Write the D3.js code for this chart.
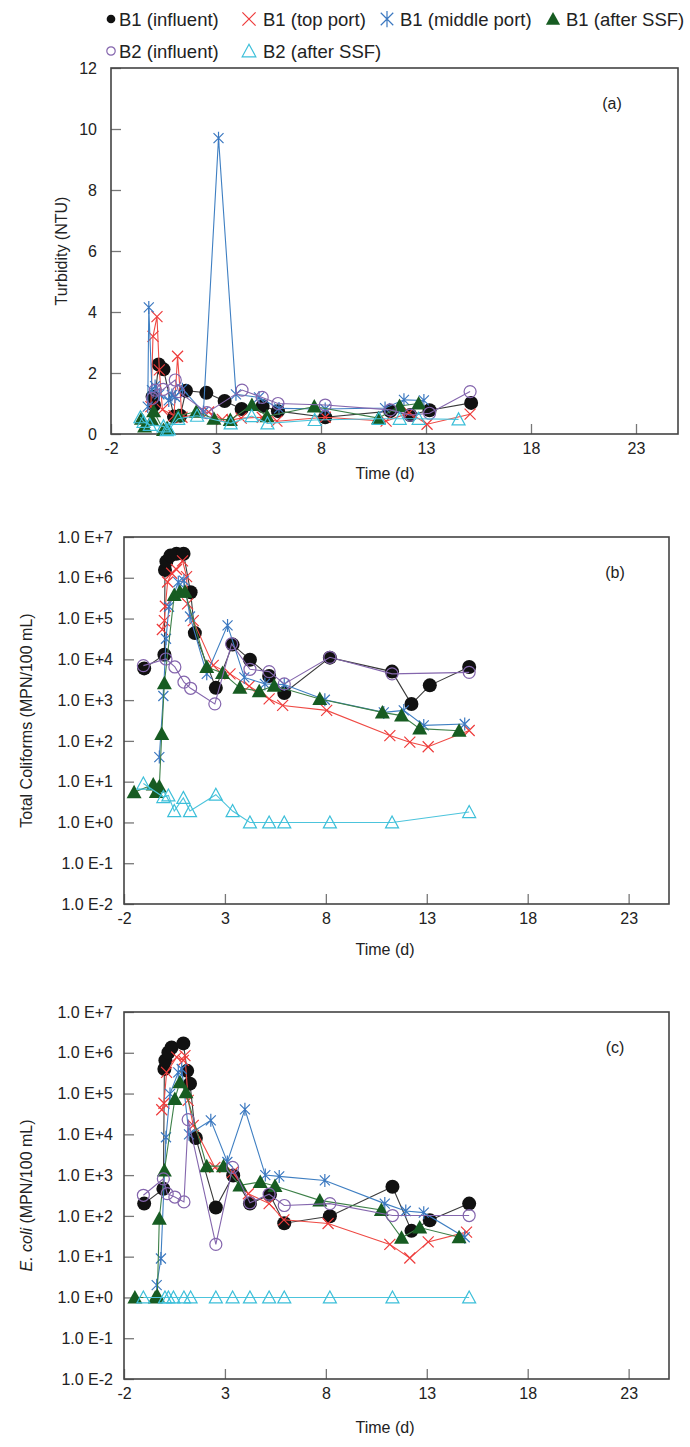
<!DOCTYPE html>
<html>
<head>
<meta charset="utf-8">
<script src="https://cdn.jsdelivr.net/npm/d3@7"></script>
<style>
  body { margin: 0; background: #fff; }
  svg { display: block; font-family: "Liberation Sans", Arial, sans-serif; }
</style>
</head>
<body>
<div id="chart"></div>
<script>
// ---- data (time in days) ----
const xTicks = [-2, 3, 8, 13, 18, 23];
const turbTicks = [0, 2, 4, 6, 8, 10, 12];
const logTicks = [1e-2, 1e-1, 1e0, 1e1, 1e2, 1e3, 1e4, 1e5, 1e6, 1e7];

// (a) turbidity, NTU
const turbB1InfT = [-0.02, 0.05, 0.27, 0.5, 1.0, 1.3, 1.57, 2.54, 3.41, 4.22, 5.22, 5.95, 8.2, 11.3, 12.25, 13.17, 15.15];
const turbB1InfV = [1.22, 0.95, 2.28, 2.12, 0.57, 0.6, 1.42, 1.35, 1.08, 0.82, 0.92, 0.75, 0.55, 0.75, 0.62, 0.78, 1.02];
const turbB1TopT = [-0.1, 0.0, 0.19, 0.3, 0.45, 1.0, 1.17, 1.38, 2.65, 3.3, 3.75, 4.2, 5.2, 5.9, 8.2, 11.1, 12.2, 13.05, 15.1];
const turbB1TopV = [0.9, 3.2, 3.85, 2.1, 0.8, 0.6, 2.55, 0.55, 0.72, 0.48, 0.46, 0.52, 0.55, 0.42, 0.55, 0.42, 0.7, 0.32, 0.65];
const turbB1MidT = [-0.25, -0.2, -0.05, 0.1, 0.3, 0.75, 0.9, 1.05, 1.4, 2.4, 3.12, 3.95, 5.05, 6.0, 8.2, 11.05, 11.95, 12.9];
const turbB1MidV = [0.9, 4.15, 1.44, 1.57, 1.3, 1.1, 1.28, 1.22, 1.47, 0.72, 9.7, 1.3, 1.2, 0.84, 0.82, 0.85, 1.12, 1.1];
const turbB1SsfT = [-0.55, -0.4, -0.05, 0.03, 0.5, 0.67, 1.2, 2.06, 2.9, 3.68, 4.71, 5.43, 7.68, 10.74, 11.74, 12.65];
const turbB1SsfV = [0.5, 0.25, 0.46, 0.75, 0.13, 0.2, 0.6, 0.73, 0.5, 0.46, 0.95, 0.58, 0.9, 0.52, 0.92, 1.0];
const turbB2InfT = [-0.02, 0.11, 0.48, 1.06, 1.22, 2.57, 4.24, 5.2, 5.95, 8.2, 11.3, 12.25, 13.17, 15.1];
const turbB2InfV = [1.17, 1.44, 1.46, 1.77, 1.39, 0.7, 1.44, 1.2, 1.0, 0.95, 0.79, 0.62, 0.68, 1.39];
const turbB2SsfT = [-0.6, -0.45, -0.15, 0.5, 0.65, 0.75, 1.2, 2.1, 3.7, 4.7, 5.45, 7.7, 10.75, 11.75, 12.65, 14.55];
const turbB2SsfV = [0.55, 0.4, 0.3, 0.25, 0.13, 0.15, 0.5, 0.6, 0.35, 0.59, 0.35, 0.46, 0.5, 0.5, 0.5, 0.48];

// (b) total coliforms, MPN/100 mL
const tcB1InfT = [-1.0, 0.0, 0.03, 0.1, 0.3, 0.6, 0.95, 1.3, 1.51, 2.55, 3.38, 4.24, 5.19, 5.94, 8.2, 11.28, 12.24, 13.15, 15.1];
const tcB1InfV = [6000, 13000, 1550000, 2500000, 3500000, 3900000, 3900000, 440000, 44000, 2000, 23000, 9800, 3900, 1500, 11000, 5000, 800, 2300, 6500];
const tcB1TopT = [-0.1, 0.0, 0.05, 0.16, 0.36, 0.6, 0.9, 1.1, 1.15, 1.43, 2.42, 3.25, 4.2, 5.19, 5.86, 8.04, 11.17, 12.16, 13.07, 15.1];
const tcB1TopV = [54000, 89000, 200000, 790000, 1290000, 1600000, 2600000, 1070000, 230000, 89000, 7100, 4400, 2200, 1070, 740, 560, 135, 93, 72, 180];
const tcB1MidT = [-0.25, -0.05, 0.08, 0.23, 0.69, 0.97, 1.27, 2.1, 3.13, 3.96, 4.98, 5.94, 7.95, 10.87, 11.86, 12.85, 14.88];
const tcB1MidV = [40, 1260, 32000, 195000, 780000, 850000, 112000, 4400, 68000, 3600, 2500, 2400, 1020, 500, 560, 240, 260];
const tcB1SsfT = [-1.5, -0.55, -0.4, -0.25, -0.13, 0.0, 0.49, 0.77, 1.02, 2.1, 2.88, 3.74, 4.7, 5.44, 7.7, 10.8, 11.75, 12.65, 14.6];
const tcB1SsfV = [5.5, 8.5, 5.6, 7.6, 148, 2600, 380000, 457000, 457000, 6500, 4600, 2000, 1660, 2240, 1070, 500, 417, 200, 178];
const tcB2InfT = [-1.04, 0.08, 0.52, 0.97, 1.3, 2.5, 3.33, 4.24, 5.19, 5.94, 8.2, 11.28, 15.1];
const tcB2InfV = [7000, 10200, 6500, 2750, 1950, 810, 24000, 5700, 5000, 2500, 11200, 4400, 4800];
const tcB2SsfT = [-1.04, -0.05, 0.2, 0.49, 0.94, 1.27, 2.55, 3.38, 4.24, 5.19, 5.94, 8.2, 11.28, 15.1];
const tcB2SsfV = [9, 4.2, 4.6, 1.9, 4, 1.9, 4.8, 1.9, 1, 1, 1, 1, 1, 1.8];

// (c) E. coli, MPN/100 mL
const ecB1InfT = [-1.0, -0.05, 0.0, 0.05, 0.2, 0.36, 0.94, 1.13, 1.27, 1.56, 2.55, 3.41, 4.24, 5.23, 5.94, 8.2, 11.3, 12.24, 13.15, 15.1];
const ecB1InfV = [200, 460, 400000, 650000, 1020000, 1350000, 1700000, 360000, 175000, 8100, 160, 980, 200, 330, 66, 98, 520, 43, 78, 200];
const ecB1TopT = [-0.13, -0.02, 0.11, 0.61, 0.94, 1.02, 1.18, 1.43, 2.5, 3.38, 4.16, 5.19, 5.92, 8.11, 11.17, 12.16, 13.07, 14.97];
const ecB1TopV = [40000, 58000, 330000, 780000, 650000, 850000, 68000, 16600, 1550, 1170, 350, 200, 80, 65, 20, 9.3, 23, 40];
const ecB1MidT = [-0.38, -0.17, 0.08, 0.28, 0.69, 0.86, 1.22, 2.3, 3.12, 3.99, 5.0, 5.69, 7.95, 10.92, 11.96, 12.85, 14.88];
const ecB1MidV = [2, 9, 8500, 98000, 330000, 400000, 10000, 22000, 2100, 41000, 1000, 930, 740, 200, 132, 120, 30];
const ecB1SsfT = [-1.46, -0.45, -0.35, -0.25, 0.0, 0.52, 0.77, 1.07, 2.1, 2.93, 3.74, 4.75, 5.48, 7.7, 10.75, 11.75, 12.65, 14.6];
const ecB1SsfV = [1, 1, 1.1, 85, 1300, 74000, 190000, 107000, 1660, 1660, 560, 680, 540, 240, 140, 29, 52, 30];
const ecB2InfT = [-1.04, -0.05, 0.14, 0.52, 0.97, 1.18, 2.55, 3.38, 4.24, 5.19, 5.94, 8.2, 11.3, 15.1];
const ecB2InfV = [320, 810, 350, 290, 220, 23000, 20, 1550, 210, 340, 180, 200, 102, 102];
const ecB2SsfT = [-1.04, 0.03, 0.2, 0.45, 0.97, 1.3, 2.55, 3.38, 4.24, 5.19, 5.94, 8.2, 11.3, 15.1];
const ecB2SsfV = [1, 1, 1, 1, 1, 1, 1, 1, 1, 1, 1, 1, 1, 1];

// ---- series styles (same order as legend) ----
const seriesStyle = [
  { name: 'B1 (influent)',      marker: 'circle',   color: '#111111', line: '#3a3a3a' },
  { name: 'B1 (top port)',      marker: 'cross',    color: '#ee3b3b', line: '#ef4a44' },
  { name: 'B1 (middle port)',   marker: 'asterisk', color: '#3b78c0', line: '#3f7fc2' },
  { name: 'B1 (after SSF)',     marker: 'triangle', color: '#175c22', line: '#3d8048' },
  { name: 'B2 (influent)',      marker: 'ocircle',  color: '#8465ad', line: '#8466ad' },
  { name: 'B2 (after SSF)',     marker: 'otriangle',color: '#3cbfd9', line: '#4cc4dc' }
];

const W = 690, H = 1447;
const svg = d3.select('#chart').append('svg').attr('width', W).attr('height', H);

function zip(t, v) { return t.map((d, i) => ({ t: d, v: v[i] })); }

// k scales the marker (legend uses its own size)
function drawMarker(g, type, color, k) {
  k = k || 1;
  if (type === 'circle') {
    g.append('circle').attr('r', 7 * k).attr('fill', color);
  } else if (type === 'ocircle') {
    g.append('circle').attr('r', 6 * k).attr('fill', 'none').attr('stroke', color).attr('stroke-width', 1.2);
  } else if (type === 'cross') {
    const a = 5.5 * k;
    g.append('path').attr('d', `M${-a},${-a}L${a},${a}M${-a},${a}L${a},${-a}`)
      .attr('stroke', color).attr('stroke-width', 1.2).attr('fill', 'none');
  } else if (type === 'asterisk') {
    const a = 5 * k, b = 6.5 * k;
    g.append('path').attr('d', `M${-a},${-a}L${a},${a}M${-a},${a}L${a},${-a}M0,${-b}L0,${b}`)
      .attr('stroke', color).attr('stroke-width', 1.2).attr('fill', 'none');
  } else if (type === 'triangle') {
    const a = 7.5 * k;
    g.append('path').attr('d', `M0,${-a}L${a},${0.8 * a}L${-a},${0.8 * a}Z`).attr('fill', color);
  } else if (type === 'otriangle') {
    const a = 6.5 * k;
    g.append('path').attr('d', `M0,${-a}L${a},${0.85 * a}L${-a},${0.85 * a}Z`)
      .attr('fill', 'none').attr('stroke', color).attr('stroke-width', 1.2);
  }
}

function drawPanel(opt) {
  const { left, right, top, bottom } = opt;
  const x = d3.scaleLinear().domain([-2, 25]).range([left, right]);
  const y = opt.log
    ? d3.scaleLog().domain([1e-2, 1e7]).range([bottom, top])
    : d3.scaleLinear().domain([0, 12]).range([bottom, top]);

  const g = svg.append('g');

  // axes with inward ticks
  const yAxis = d3.axisLeft(y).tickValues(opt.yTicks).tickSize(-10).tickPadding(opt.log ? 11 : 14)
    .tickFormat(opt.log ? (d => {
      const e = Math.round(Math.log10(d));
      return '1.0 E' + (e >= 0 ? '+' : '-') + Math.abs(e);
    }) : (d => d));
  const xAxis = d3.axisBottom(x).tickValues(xTicks).tickSize(-10).tickPadding(9)
    .tickFormat(d => String(d));

  const ya = g.append('g').attr('transform', `translate(${left},0)`).call(yAxis);
  const xa = g.append('g').attr('transform', `translate(0,${bottom})`).call(xAxis);
  [ya, xa].forEach(a => {
    a.select('.domain').remove();
    a.selectAll('line').attr('stroke', '#777').attr('stroke-width', 1.3);
    a.selectAll('text').attr('font-size', 16).attr('fill', '#222')
      .attr('font-family', '"Liberation Sans", Arial, sans-serif');
  });

  // frame
  g.append('rect').attr('x', left).attr('y', top)
    .attr('width', right - left).attr('height', bottom - top)
    .attr('fill', 'none').attr('stroke', '#444').attr('stroke-width', 1.6);

  // series
  const line = d3.line().x(d => x(d.t)).y(d => y(d.v));
  opt.series.forEach((s, i) => {
    const st = seriesStyle[i];
    const pts = zip(s[0], s[1]);
    g.append('path').datum(pts).attr('d', line)
      .attr('fill', 'none').attr('stroke', st.line).attr('stroke-width', 1.1);
    g.append('g').selectAll('g').data(pts).join('g')
      .attr('transform', d => `translate(${x(d.t)},${y(d.v)})`)
      .each(function() { drawMarker(d3.select(this), st.marker, st.color); });
  });

  // panel tag
  g.append('text').attr('x', opt.tagX).attr('y', top + 41)
    .attr('text-anchor', 'middle').attr('font-size', 16).attr('fill', '#222').text(opt.tag);

  // axis titles
  g.append('text').attr('x', 385).attr('y', bottom + opt.xTitleGap)
    .attr('text-anchor', 'middle').attr('font-size', 16).attr('fill', '#222').text('Time (d)');

  const yt = g.append('text')
    .attr('transform', `translate(${opt.yTitleX},${(top + bottom) / 2}) rotate(-90)`)
    .attr('text-anchor', 'middle').attr('font-size', 16).attr('fill', '#222');
  if (opt.italic) {
    yt.append('tspan').attr('font-style', 'italic').text(opt.italic);
    yt.append('tspan').text(opt.yTitle);
  } else {
    yt.text(opt.yTitle);
  }
}

drawPanel({
  left: 111, right: 678, top: 68, bottom: 434, log: false, yTicks: turbTicks,
  tag: '(a)', tagX: 612, xTitleGap: 45, yTitleX: 67, yTitle: 'Turbidity (NTU)',
  series: [[turbB1InfT, turbB1InfV], [turbB1TopT, turbB1TopV], [turbB1MidT, turbB1MidV],
           [turbB1SsfT, turbB1SsfV], [turbB2InfT, turbB2InfV], [turbB2SsfT, turbB2SsfV]]
});

drawPanel({
  left: 124, right: 669, top: 537, bottom: 904, log: true, yTicks: logTicks,
  tag: '(b)', tagX: 615, xTitleGap: 51, yTitleX: 32, yTitle: 'Total Coliforms (MPN/100 mL)',
  series: [[tcB1InfT, tcB1InfV], [tcB1TopT, tcB1TopV], [tcB1MidT, tcB1MidV],
           [tcB1SsfT, tcB1SsfV], [tcB2InfT, tcB2InfV], [tcB2SsfT, tcB2SsfV]]
});

drawPanel({
  left: 124, right: 669, top: 1012, bottom: 1379, log: true, yTicks: logTicks,
  tag: '(c)', tagX: 615, xTitleGap: 54, yTitleX: 32, italic: 'E. coli', yTitle: ' (MPN/100 mL)',
  series: [[ecB1InfT, ecB1InfV], [ecB1TopT, ecB1TopV], [ecB1MidT, ecB1MidV],
           [ecB1SsfT, ecB1SsfV], [ecB2InfT, ecB2InfV], [ecB2SsfT, ecB2SsfV]]
});

// legend (two rows at the top)
const legendPos = [
  { x: 111, y: 19, tx: 119 }, { x: 249, y: 19, tx: 263 }, { x: 387, y: 19, tx: 400 }, { x: 553, y: 19, tx: 566 },
  { x: 111, y: 51, tx: 119 }, { x: 249, y: 51, tx: 263 }
];
const legendScale = [0.62, 1.2, 1.25, 0.95, 0.7, 1.05];
seriesStyle.forEach((st, i) => {
  const p = legendPos[i];
  const lg = svg.append('g').attr('transform', `translate(${p.x},${p.y})`);
  drawMarker(lg, st.marker, st.color, legendScale[i]);
  lg.append('text').attr('x', p.tx - p.x).attr('y', 6.6)
    .attr('font-size', 18.5).attr('fill', '#222').text(st.name);
});
</script>
</body>
</html>
